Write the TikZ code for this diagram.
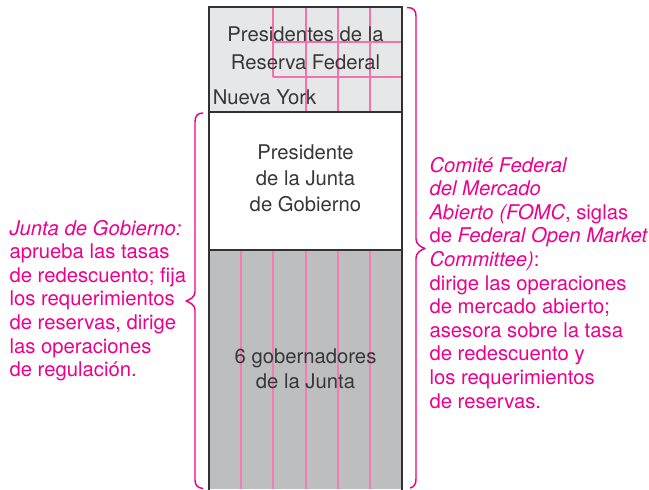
\documentclass[tikz,border=0pt]{standalone}
\usepackage{fontspec}
\setmainfont{TeX Gyre Heros}
\definecolor{fed}{RGB}{236,0,140}
\definecolor{txt}{RGB}{55,55,55}
\definecolor{lightg}{RGB}{230,231,232}
\definecolor{darkg}{RGB}{188,190,192}
\definecolor{gridp}{RGB}{240,115,170}
\definecolor{gridq}{RGB}{242,125,178}
\definecolor{boxl}{RGB}{50,50,50}
\begin{document}
\begin{tikzpicture}[x=0.75pt,y=-0.75pt,
  boxline/.style={draw=boxl,line width=1.2pt},
  gridline/.style={draw=gridp,line width=0.9pt},
  gridline2/.style={draw=gridq,line width=0.9pt},
  btext/.style={inner sep=0pt,text=txt,align=center,anchor=base},
  ptext/.style={inner sep=0pt,text=fed,align=left,anchor=base west,
    font=\fontsize{15.2}{17.7}\selectfont},
  bracepath/.style={draw=fed,line width=1.1pt,line join=round}]
\useasboundingbox (0,0) rectangle (649,489);
% fills
\fill[lightg] (209,7) rectangle (402,112);
\fill[white] (209,112) rectangle (402,250);
\fill[darkg] (209,250) rectangle (402,489);
% grid in top box
\draw[gridline] (273,7) -- (273,77);
\foreach \x in {306,338,370} \draw[gridline] (\x,7) -- (\x,112);
\draw[gridline] (273,42) -- (402,42);
\draw[gridline] (273,77) -- (402,77);
% grid in bottom box
\foreach \x in {241,273,306,338,370} \draw[gridline2] (\x,250) -- (\x,489);
% borders
\draw[boxline] (209,490) -- (209,7) -- (402,7) -- (402,490);
\draw[boxline] (209,112) -- (402,112);
\draw[boxline] (209,250) -- (402,250);
% texts in column (anchored at the baseline of the last line)
\node[btext,font=\fontsize{15.2}{20.6}\selectfont] (pres) at (305.5,69) {Presidentes de la\\Reserva Federal};
\node[btext,anchor=base west,font=\fontsize{15.2}{20.6}\selectfont] (ny) at (212.5,104) {Nueva York};
\node[btext,font=\fontsize{15.2}{19.4}\selectfont] (chair) at (305.5,211.7) {Presidente\\de la Junta\\de Gobierno};
\node[btext,font=\fontsize{15.2}{18.8}\selectfont] (gov) at (305.5,388.3) {6 gobernadores\\de la Junta};
% left text
\node[ptext] (junta) at (9.3,376.6) {\textit{Junta de Gobierno:}\\aprueba las tasas\\de redescuento; fija\\los requerimientos\\de reservas, dirige\\las operaciones\\de regulación.};
% right text
\node[ptext] (fomc) at (429.3,408) {\textit{Comité Federal}\\\textit{del Mercado}\\\textit{Abierto (FOMC}, siglas\\de \textit{Federal Open Market}\\\textit{Committee)}:\\dirige las operaciones\\de mercado abierto;\\asesora sobre la tasa\\de redescuento y\\los requerimientos\\de reservas.};
% braces
\draw[bracepath] (203,113) .. controls (197.5,113) and (195,116) .. (195,122)
  -- (195,292) .. controls (195,297) and (190,299.5) .. (186,301)
  .. controls (190,302.5) and (195,305) .. (195,310)
  -- (195,480) .. controls (195,485) and (197.5,488) .. (203,488.5);
\draw[bracepath] (407,7.5) .. controls (413,7.5) and (416,10) .. (416,16)
  -- (416,239) .. controls (416,244) and (420.5,247) .. (425,248.5)
  .. controls (420.5,250) and (416,253) .. (416,258)
  -- (416,479) .. controls (416,484.5) and (414,487) .. (410,488);
\end{tikzpicture}
\end{document}
